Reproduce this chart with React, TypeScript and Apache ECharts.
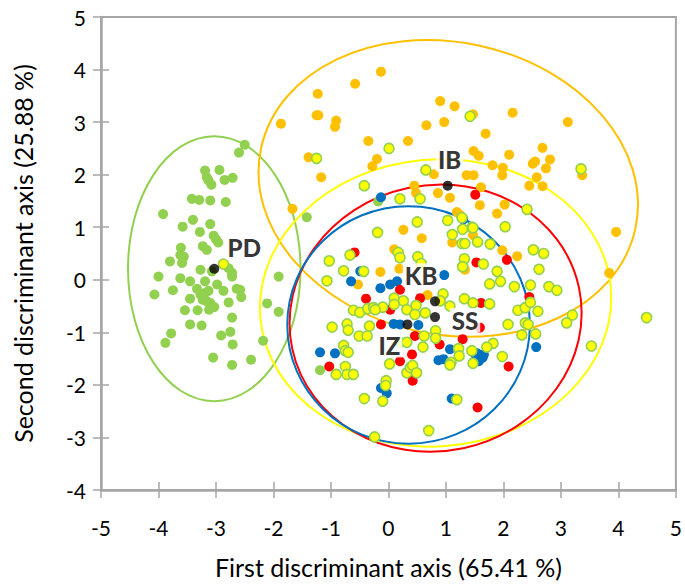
import React, { useEffect, useRef } from "react";
import * as echarts from "echarts";

// ---- data ----
const xTicks = [-5, 5, 1]; // min, max, interval
const yTicks = [-4, 5, 1];

const pdPoints: number[][] = [
  [-2.5, 2.57], [-2.6, 2.42], [-3.19, 2.08], [-3.16, 1.95], [-3.13, 1.89], [-3.08, 1.81], [-2.94, 2.09],
  [-2.85, 1.9], [-2.71, 1.94], [-3.42, 1.54], [-3.29, 1.52], [-3.1, 1.51], [-2.83, 1.48], [-3.92, 1.25],
  [-1.42, 1.19], [-3.4, 1.14], [-3.58, 1.01], [-3.1, 1.06], [-3.28, 0.91], [-3.04, 0.84], [-3.0, 0.77],
  [-2.96, 0.71], [-3.23, 0.64], [-3.16, 0.57], [-3.61, 0.61], [-3.62, 0.47], [-3.56, 0.44], [-3.59, 0.32],
  [-3.8, 0.35], [-2.78, 0.22], [-2.72, 0.13], [-3.27, 0.19], [-3.07, 0.16], [-4.0, 0.06], [-3.62, 0.03],
  [-1.91, 0.06], [-3.45, -0.03], [-3.19, -0.03], [-4.07, -0.28], [-3.75, -0.2], [-3.33, -0.17],
  [-3.27, -0.28], [-3.19, -0.25], [-3.13, -0.21], [-2.98, -0.09], [-2.87, -0.21], [-2.72, 0.06],
  [-2.64, -0.17], [-2.58, -0.19], [-3.23, -0.38], [-3.16, -0.41], [-3.1, -0.44], [-3.03, -0.52],
  [-3.12, -0.57], [-3.45, -0.36], [-2.78, -0.43], [-2.56, -0.33], [-3.54, -0.58], [-3.32, -0.58],
  [-2.72, -0.72], [-3.45, -0.85], [-3.25, -0.87], [-2.11, -0.45], [-1.91, -0.61], [-3.78, -1.02],
  [-3.88, -1.2], [-2.91, -1.06], [-2.75, -0.99], [-2.71, -1.23], [-2.18, -1.16], [-3.05, -1.48],
  [-2.72, -1.62], [-2.39, -1.52], [-0.18, 1.49], [-1.19, -1.72],
];

const ibPoints: number[][] = [
  [-1.87, 2.97], [-1.25, 3.13], [-1.39, 2.33], [-1.17, 1.95], [-1.67, 1.35], [-0.13, 3.96], [-0.58, 3.73],
  [-1.23, 3.54], [-1.22, 3.13], [-0.91, 3.03], [-0.93, 2.91], [0.9, 3.4], [1.15, 3.3], [0.66, 2.94],
  [0.97, 3.0], [-0.35, 2.64], [0.34, 2.64], [-0.2, 2.3], [-0.28, 2.16], [1.48, 2.45], [1.57, 2.36],
  [0.79, 2.01], [1.36, 1.99], [1.48, 1.99], [0.45, 1.79], [0.48, 1.65], [0.86, 1.65], [1.07, 1.56],
  [1.19, 1.29], [1.25, 1.23], [0.26, 0.95], [1.47, 3.15], [2.16, 3.18], [3.12, 3.0], [1.69, 2.78],
  [2.1, 2.38], [2.68, 2.51], [2.51, 2.21], [2.55, 2.25], [2.81, 2.29], [2.74, 2.12], [1.81, 2.18],
  [1.99, 2.13], [1.98, 1.99], [3.37, 1.99], [2.58, 1.95], [2.45, 1.79], [2.68, 1.78], [1.61, 1.76],
  [1.59, 1.42], [2.02, 1.43], [1.89, 1.26], [1.47, 0.85], [3.96, 0.91], [1.98, 0.56], [2.24, 0.45],
  [1.33, 0.19], [3.84, 0.13], [0.58, 0.79], [1.11, 0.71], [0.1, 0.58], [0.19, 0.21], [-0.14, 0.15],
  [-0.53, -0.09], [0.68, -0.29],
];

const izPoints: number[][] = [
  [-0.13, 1.57], [1.3, 1.15], [-0.49, 0.16], [-0.65, -0.03], [-0.14, -0.16], [0.03, -0.09], [0.15, -0.03],
  [0.97, 0.09], [2.57, -1.28], [1.51, -1.42], [1.66, -1.42], [1.57, -1.55], [0.09, -0.84], [0.2, -0.85],
  [0.52, -0.86], [0.96, -1.51], [1.07, -1.32], [1.54, -1.4], [1.64, -1.48], [-1.19, -1.38], [-0.93, -1.4],
  [0.87, -1.53], [1.57, -1.54], [-0.13, -2.06], [-0.03, -2.16], [1.1, -2.26],
];

const ssPoints: number[][] = [
  [1.51, 1.62], [1.53, 0.33], [2.06, 0.38], [2.45, -0.33], [1.61, -0.44], [1.59, -0.91], [2.09, -1.65],
  [1.55, -2.43], [-0.59, 0.52], [0.2, -0.19], [-0.39, -0.36], [0.55, -0.35], [0.03, -0.57], [1.29, -1.13],
  [-0.13, -0.85], [0.89, -1.23], [0.46, -1.07], [0.41, -1.42], [0.2, -1.55], [-1.03, -1.65], [0.42, -1.92],
];

const kbPoints: number[][] = [
  [-1.25, 2.31], [1.42, 3.11], [0.01, 2.5], [0.65, 2.09], [-0.42, 1.79], [0.2, 1.54], [0.55, 1.54],
  [1.28, 1.18], [1.03, 1.13], [0.5, 1.1], [1.45, 1.0], [3.35, 2.11], [2.41, 1.34], [2.03, 1.01],
  [1.29, 0.96], [1.47, 0.99], [1.55, 0.72], [1.77, 0.68], [1.28, 0.69], [1.33, 0.69], [2.52, 0.57],
  [2.7, 0.5], [1.65, 0.3], [1.32, 0.4], [1.29, 0.25], [2.62, 0.2], [1.89, 0.16], [1.95, -0.03],
  [1.76, -0.08], [2.19, -0.13], [2.47, -0.1], [2.79, -0.13], [2.93, -0.2], [1.76, -0.46], [2.25, -0.58],
  [2.38, -0.53], [2.6, -0.6], [2.47, -0.43], [3.2, -0.67], [3.1, -0.82], [4.49, -0.72], [2.08, -0.85],
  [2.38, -0.82], [2.43, -0.85], [2.56, -1.03], [2.32, -1.05], [3.53, -1.26], [1.82, -1.21], [1.71, -1.28],
  [1.98, -1.46], [1.47, -1.59], [1.45, -1.35], [-0.19, 0.9], [1.11, 0.86], [-0.67, 0.47], [-1.03, 0.36],
  [0.17, 0.52], [0.2, 0.42], [0.51, 0.44], [0.57, 0.31], [-0.78, 0.17], [-0.43, 0.16], [-1.07, -0.02],
  [0.1, -0.35], [0.26, -0.4], [0.1, -0.47], [0.48, -0.49], [0.32, -0.57], [0.46, -0.66], [0.64, -0.63],
  [0.95, -0.27], [0.9, -0.4], [1.07, -0.5], [1.32, -0.36], [1.47, -0.44], [-0.61, -0.58], [-0.5, -0.62],
  [-0.36, -0.55], [-0.26, -0.53], [-0.1, -0.52], [-0.33, -0.88], [-0.51, -1.07], [-0.37, -1.07],
  [-0.23, -0.57], [-0.98, -0.9], [-0.72, -0.84], [-0.7, -0.96], [0.62, -1.07], [0.82, -0.97],
  [0.82, -1.11], [0.6, -1.28], [1.22, -1.31], [1.23, -1.45], [1.09, -1.57], [0.2, -1.19], [0.32, -1.19],
  [-0.78, -1.25], [-0.75, -1.35], [-0.7, -1.38], [0.02, -1.6], [-0.91, -1.8], [-0.75, -1.65],
  [-0.72, -1.8], [-0.61, -1.8], [0.32, -1.77], [0.38, -1.67], [0.42, -1.63], [0.49, -1.77], [1.07, -1.62],
  [-0.04, -1.92], [-0.05, -2.01], [-0.1, -2.31], [-0.42, -2.26], [1.19, -2.28], [0.7, -2.87],
  [-0.24, -2.99], [-2.87, 0.3],
];

// group centroids and their labels
const centroidNames = ["PD", "IB", "KB", "SS", "IZ"];
const centroidX = [-3.03, 1.03, 0.81, 0.81, 0.33];
const centroidY = [0.21, 1.79, -0.41, -0.71, -0.85];

// confidence ellipses: center x, center y, radius x, radius y, tilt (deg)
const ellipseNames = ["PD", "IB", "KB", "SS", "IZ"];
const ellipseCx = [-3.03, 1.04, 0.82, 0.82, 0.35];
const ellipseCy = [0.21, 1.74, -0.44, -0.73, -0.86];
const ellipseRx = [1.5, 3.33, 3.06, 2.55, 2.11];
const ellipseRy = [2.52, 2.78, 2.73, 2.53, 2.26];
const ellipseTilt = [0, -12, 5, 12, 0];

const COLORS: Record<string, string> = {
  PD: "#92D050",
  IB: "#FFC000",
  KB: "#FFFF00",
  SS: "#FF0000",
  IZ: "#0070C0",
};
const labelOffsets: Record<string, number[]> = {
  PD: [30, -21],
  IB: [2, -26],
  KB: [-14, -26],
  SS: [30, 3],
  IZ: [-18, 21],
};

const FONT = "Lato, 'Noto Sans', sans-serif";
const AXIS_GRAY = "#A6A6A6";

export default function App() {
  const ref = useRef<HTMLDivElement>(null);

  useEffect(() => {
    document.body.style.margin = "0";
    if (!ref.current) return;
    const chart = echarts.init(ref.current, undefined, { renderer: "svg" });

    const ellipseData = ellipseNames.map((n, i) => ({
      name: n,
      value: [ellipseCx[i], ellipseCy[i], ellipseRx[i], ellipseRy[i], ellipseTilt[i]],
      itemStyle: { color: COLORS[n] },
    }));

    const dotSeries = (name: string, data: number[][], fill: string, border?: string) => ({
      type: "scatter",
      name,
      data,
      symbol: "circle",
      symbolSize: 10,
      itemStyle: border
        ? { color: fill, borderColor: border, borderWidth: 1.6, opacity: 1 }
        : { color: fill, opacity: 1 },
      emphasis: { disabled: true },
      silent: true,
      z: 3,
    });

    const commonX = { type: "value", min: xTicks[0], max: xTicks[1], interval: xTicks[2] };
    const commonY = { type: "value", min: yTicks[0], max: yTicks[1], interval: yTicks[2] };

    chart.setOption({
      animation: false,
      backgroundColor: "#ffffff",
      grid: {
        left: 101,
        right: 8,
        top: 17,
        bottom: 92,
        show: true,
        borderColor: AXIS_GRAY,
        borderWidth: 2,
        backgroundColor: "transparent",
      },
      xAxis: [
        {
          ...commonX,
          position: "bottom",
          name: "First discriminant axis (65.41 %)",
          nameLocation: "middle",
          nameGap: 64,
          nameTextStyle: { fontFamily: FONT, fontSize: 25, color: "#000" },
          axisLine: { show: true, onZero: false, lineStyle: { color: AXIS_GRAY, width: 2.5 } },
          axisTick: { show: true, inside: false, length: 8, lineStyle: { color: AXIS_GRAY, width: 1.5 } },
          axisLabel: { fontFamily: FONT, fontSize: 21, color: "#000", margin: 27 },
          splitLine: { show: false },
        },
        {
          ...commonX,
          position: "bottom",
          axisLine: { show: false, onZero: false },
          axisTick: { show: true, inside: true, length: 8, lineStyle: { color: AXIS_GRAY, width: 1.5 } },
          axisLabel: { show: false },
          splitLine: { show: false },
        },
      ],
      yAxis: [
        {
          ...commonY,
          position: "left",
          name: "Second discriminant axis (25.88 %)",
          nameLocation: "middle",
          nameGap: 66,
          nameTextStyle: { fontFamily: FONT, fontSize: 25, color: "#000" },
          axisLine: { show: true, onZero: false, lineStyle: { color: AXIS_GRAY, width: 2.5 } },
          axisTick: { show: true, inside: false, length: 8, lineStyle: { color: AXIS_GRAY, width: 1.5 } },
          axisLabel: { fontFamily: FONT, fontSize: 21, color: "#000", margin: 15 },
          splitLine: { show: false },
        },
        {
          ...commonY,
          position: "left",
          axisLine: { show: false, onZero: false },
          axisTick: { show: true, inside: true, length: 8, lineStyle: { color: AXIS_GRAY, width: 1.5 } },
          axisLabel: { show: false },
          splitLine: { show: false },
        },
      ],
      series: [
        {
          type: "custom",
          name: "ellipses",
          coordinateSystem: "cartesian2d",
          data: ellipseData,
          encode: { x: 0, y: 1 },
          clip: false,
          silent: true,
          z: 2,
          renderItem: (params: any, api: any) => {
            const c = api.coord([api.value(0), api.value(1)]);
            const s = api.size([api.value(2), api.value(3)]);
            return {
              type: "ellipse",
              x: c[0],
              y: c[1],
              rotation: (api.value(4) * Math.PI) / 180,
              shape: { cx: 0, cy: 0, rx: s[0], ry: s[1] },
              style: { fill: "none", stroke: api.visual("color"), lineWidth: 2 },
              silent: true,
            };
          },
        },
        dotSeries("PD", pdPoints, COLORS.PD),
        dotSeries("IB", ibPoints, COLORS.IB),
        dotSeries("IZ", izPoints, COLORS.IZ),
        dotSeries("SS", ssPoints, COLORS.SS),
        dotSeries("KB", kbPoints, COLORS.KB, "#92D050"),
        {
          type: "scatter",
          name: "centroids",
          data: centroidNames.map((n, i) => ({
            name: n,
            value: [centroidX[i], centroidY[i]],
            label: {
              show: true,
              formatter: n,
              position: "inside",
              offset: labelOffsets[n],
              fontFamily: FONT,
              fontWeight: 900,
              fontSize: 24,
              color: "#000000",
              backgroundColor: "#ffffff",
              padding: [0, 2],
            },
          })),
          symbol: "circle",
          symbolSize: 10,
          itemStyle: { color: "#000000" },
          silent: true,
          z: 5,
        },
      ],
    });

    return () => chart.dispose();
  }, []);

  return (
    <div
      ref={ref}
      style={{ position: "absolute", left: 0, top: 0, width: 685, height: 584, background: "#fff" }}
    />
  );
}
